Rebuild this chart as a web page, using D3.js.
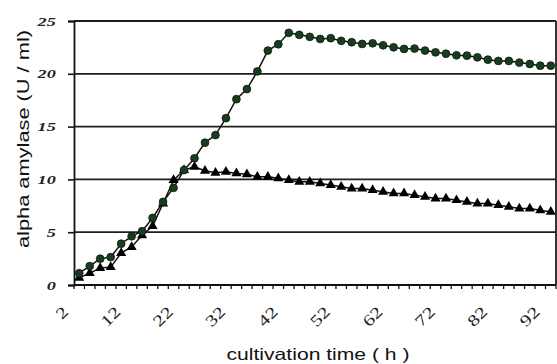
<!DOCTYPE html>
<html>
<head>
<meta charset="utf-8">
<script src="https://cdn.jsdelivr.net/npm/d3@7"></script>
<style>
  html, body { margin: 0; padding: 0; background: #fff; }
  svg { display: block; }
</style>
</head>
<body>
<svg id="chart" width="557" height="364"></svg>
<script>
// Cultivation time categories (hours)
const hours = [2, 4, 6, 8, 10, 12, 14, 16, 18, 20, 22, 24, 26, 28, 30, 32, 34, 36, 38, 40,
               42, 44, 46, 48, 50, 52, 54, 56, 58, 60, 62, 64, 66, 68, 70, 72, 74, 76, 78, 80,
               82, 84, 86, 88, 90, 92];

// Alpha amylase activity (U/ml), circle series
const circleSeries = [1.12, 1.79, 2.49, 2.64, 3.91, 4.61, 5.09, 6.35, 7.87, 9.2,
                      10.88, 12.0, 13.48, 14.2, 15.8, 17.6, 18.55, 20.23, 22.2, 22.8,
                      23.88, 23.69, 23.5, 23.3, 23.37, 23.12, 22.99, 22.83, 22.89, 22.7,
                      22.51, 22.36, 22.39, 22.2, 22.03, 21.9, 21.75, 21.72, 21.56, 21.34,
                      21.22, 21.22, 21.06, 20.93, 20.77, 20.77];

// Alpha amylase activity (U/ml), triangle series
const triangleSeries = [0.68, 1.12, 1.6, 1.69, 3.02, 3.6, 4.7, 5.59, 7.72, 9.93,
                        10.88, 11.2, 10.82, 10.63, 10.72, 10.57, 10.48, 10.25, 10.25, 10.1,
                        9.93, 9.77, 9.77, 9.62, 9.46, 9.3, 9.14, 9.14, 8.98, 8.82,
                        8.67, 8.67, 8.51, 8.35, 8.19, 8.19, 8.03, 7.87, 7.72, 7.72,
                        7.56, 7.4, 7.24, 7.24, 7.08, 6.92];

const yTicks = [0, 5, 10, 15, 20, 25];
const xTickLabels = [2, 12, 22, 32, 42, 52, 62, 72, 82, 92];

const plot = { left: 74, right: 556, top: 21, bottom: 285 };
const svg = d3.select("#chart");

const x = d3.scaleBand().domain(hours).range([plot.left, plot.right]).padding(0);
const y = d3.scaleLinear().domain([0, 25]).range([plot.bottom, plot.top]);
const cx = h => x(h) + x.bandwidth() / 2;

// Horizontal gridlines
svg.append("g")
  .selectAll("line")
  .data(yTicks.filter(v => v > 0))
  .join("line")
  .attr("x1", plot.left).attr("x2", plot.right)
  .attr("y1", d => y(d)).attr("y2", d => y(d))
  .attr("stroke", "#1e1e1e").attr("stroke-width", 1.8);

// Right border of the plot area
svg.append("line")
  .attr("x1", plot.right).attr("x2", plot.right)
  .attr("y1", y(25)).attr("y2", y(0))
  .attr("stroke", "#1e1e1e").attr("stroke-width", 1.8);

// Y axis
const yAxis = svg.append("g")
  .attr("transform", `translate(${plot.left},0)`)
  .call(d3.axisLeft(y).tickValues(yTicks).tickSize(6).tickPadding(7).tickFormat(d3.format("d")));
yAxis.select(".domain").attr("stroke", "#111").attr("stroke-width", 1.8);
yAxis.selectAll(".tick line").attr("stroke", "#111").attr("stroke-width", 1.6);
yAxis.selectAll(".tick text")
  .attr("font-family", "'Liberation Serif', 'Times New Roman', serif")
  .attr("font-style", "italic")
  .attr("font-weight", "bold")
  .attr("font-size", 13)
  .attr("fill", "#222")
  .attr("transform", "scale(1.4,1)");

// X axis line and category boundary ticks
const xAxis = svg.append("g");
xAxis.append("line")
  .attr("x1", plot.left).attr("x2", plot.right)
  .attr("y1", y(0)).attr("y2", y(0))
  .attr("stroke", "#111").attr("stroke-width", 1.8);
xAxis.selectAll("line.tk")
  .data(hours.map(h => x(h)).concat([x(hours[hours.length - 1]) + x.bandwidth()]))
  .join("line")
  .attr("class", "tk")
  .attr("x1", d => d).attr("x2", d => d)
  .attr("y1", y(0)).attr("y2", y(0) + 4)
  .attr("stroke", "#111").attr("stroke-width", 1.3);

// Rotated x tick labels
xAxis.selectAll("text")
  .data(xTickLabels)
  .join("text")
  .attr("transform", d => `translate(${cx(d) - 10},313) rotate(-45) scale(1.3,1)`)
  .attr("text-anchor", "end")
  .attr("font-family", "'Liberation Serif', 'Times New Roman', serif")
  .attr("font-size", 16)
  .attr("fill", "#222")
  .text(d => d);

// Series lines
const line = d3.line().x((d, i) => cx(hours[i])).y(d => y(d));

svg.append("path")
  .datum(triangleSeries)
  .attr("d", line)
  .attr("fill", "none").attr("stroke", "#111").attr("stroke-width", 1.5);

svg.append("path")
  .datum(circleSeries)
  .attr("d", line)
  .attr("fill", "none").attr("stroke", "#111").attr("stroke-width", 1.5);

// Triangle markers
svg.append("g")
  .selectAll("path")
  .data(triangleSeries)
  .join("path")
  .attr("d", d3.symbol(d3.symbolTriangle, 44))
  .attr("transform", (d, i) => `translate(${cx(hours[i])},${y(d)})`)
  .attr("fill", "#000");

// Circle markers
svg.append("g")
  .selectAll("circle")
  .data(circleSeries)
  .join("circle")
  .attr("cx", (d, i) => cx(hours[i]))
  .attr("cy", d => y(d))
  .attr("r", 3.9)
  .attr("fill", "#173d1f")
  .attr("stroke", "#0b1a0e")
  .attr("stroke-width", 0.8);

// Axis titles
svg.append("text")
  .attr("x", 318).attr("y", 360)
  .attr("text-anchor", "middle")
  .attr("font-family", "'Liberation Sans', Arial, sans-serif")
  .attr("font-size", 16.5)
  .attr("fill", "#111")
  .attr("textLength", 183)
  .attr("lengthAdjust", "spacingAndGlyphs")
  .text("cultivation time ( h )");

svg.append("text")
  .attr("transform", "translate(29,139) rotate(-90)")
  .attr("text-anchor", "middle")
  .attr("font-family", "'Liberation Sans', Arial, sans-serif")
  .attr("font-size", 16.5)
  .attr("fill", "#111")
  .attr("textLength", 218)
  .attr("lengthAdjust", "spacingAndGlyphs")
  .text("alpha amylase (U / ml)");
</script>
</body>
</html>
